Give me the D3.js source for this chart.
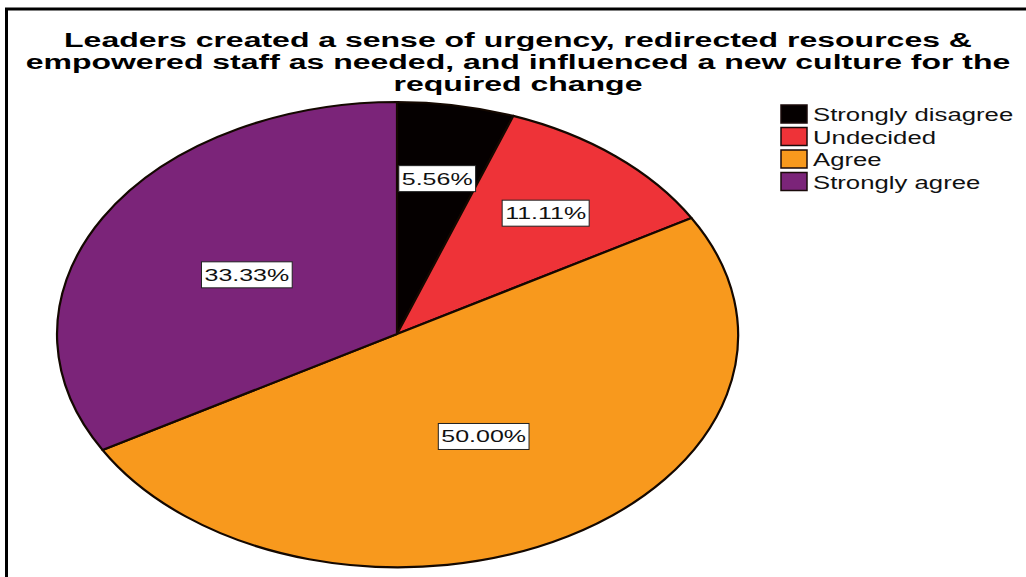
<!DOCTYPE html>
<html>
<head>
<meta charset="utf-8">
<script src="https://cdn.jsdelivr.net/npm/d3@7"></script>
<style>
  html, body { margin: 0; padding: 0; background: #ffffff; }
  svg { display: block; }
</style>
</head>
<body>
<svg id="chart" width="1026" height="577"></svg>
<script>
// Response categories and their shares (percent)
const categories = ["Strongly disagree", "Undecided", "Agree", "Strongly agree"];
const values = [5.56, 11.11, 50.00, 33.33];
const labels = ["5.56%", "11.11%", "50.00%", "33.33%"];
const colors = ["#050000", "#ee3338", "#f8991d", "#7b2479"];
const titleLines = [
  "Leaders created a sense of urgency, redirected resources &",
  "empowered staff as needed, and influenced a new culture for the",
  "required change"
];

const W = 1026, H = 577;
const stretch = 1.47;              // horizontal stretch of the whole figure
const cx = 397, cy = 334, rx = 340, ry = 232;

const svg = d3.select("#chart");

// frame (top and left edges visible)
svg.append("rect")
  .attr("x", 6.5).attr("y", 9)
  .attr("width", W + 20).attr("height", H + 20)
  .attr("fill", "none").attr("stroke", "#000").attr("stroke-width", 3);

// title
const title = svg.append("g").attr("font-family", "Liberation Sans, Arial, sans-serif")
  .attr("font-weight", "bold").attr("font-size", 20).attr("fill", "#000");
titleLines.forEach((t, i) => {
  title.append("text")
    .attr("text-anchor", "middle")
    .attr("transform", `translate(518,${47 + i * 22}) scale(1.6,1)`)
    .text(t);
});

// pie
const pie = d3.pie().sort(null).value(d => d);
const arcs = pie(values);
const arc = d3.arc().innerRadius(0).outerRadius(1);
const color = d3.scaleOrdinal().domain(categories).range(colors);

const pieG = svg.append("g").attr("transform", `translate(${cx},${cy}) scale(${rx},${ry})`);
pieG.selectAll("path")
  .data(arcs)
  .join("path")
  .attr("d", arc)
  .attr("fill", (d, i) => color(categories[i]))
  .attr("stroke", "#140800")
  .attr("stroke-width", 2.2)
  .attr("stroke-linejoin", "round")
  .attr("vector-effect", "non-scaling-stroke");

// value labels in boxes
const labelG = svg.append("g").attr("font-family", "Liberation Sans, Arial, sans-serif")
  .attr("font-size", 17).attr("fill", "#111");
arcs.forEach((d, i) => {
  const r = (d.endAngle - d.startAngle) > Math.PI / 2 ? 0.51 : 0.68;
  const [px, py] = d3.arc().innerRadius(r).outerRadius(r).centroid(d);
  const x = cx + px * rx, y = cy + py * ry;
  const g = labelG.append("g");
  const rect = g.append("rect").attr("fill", "#fff").attr("stroke", "#222").attr("stroke-width", 1);
  const txt = g.append("text")
    .attr("text-anchor", "middle")
    .attr("transform", `translate(${x},${y + 6}) scale(${stretch},1)`)
    .text(labels[i]);
  const bw = txt.node().getBBox().width * stretch + 6;
  rect.attr("x", x - bw / 2).attr("y", y - 13).attr("width", bw).attr("height", 26);
});

// legend
const legend = svg.append("g").attr("font-family", "Liberation Sans, Arial, sans-serif")
  .attr("font-size", 17.5).attr("fill", "#111");
categories.forEach((c, i) => {
  const top = 105 + i * 22.5;
  legend.append("rect")
    .attr("x", 781).attr("y", top).attr("width", 26).attr("height", 18)
    .attr("fill", color(c)).attr("stroke", "#1a0a0a").attr("stroke-width", 1.5);
  legend.append("text")
    .attr("transform", `translate(813,${top + 16}) scale(${stretch},1)`)
    .text(c);
});
</script>
</body>
</html>
